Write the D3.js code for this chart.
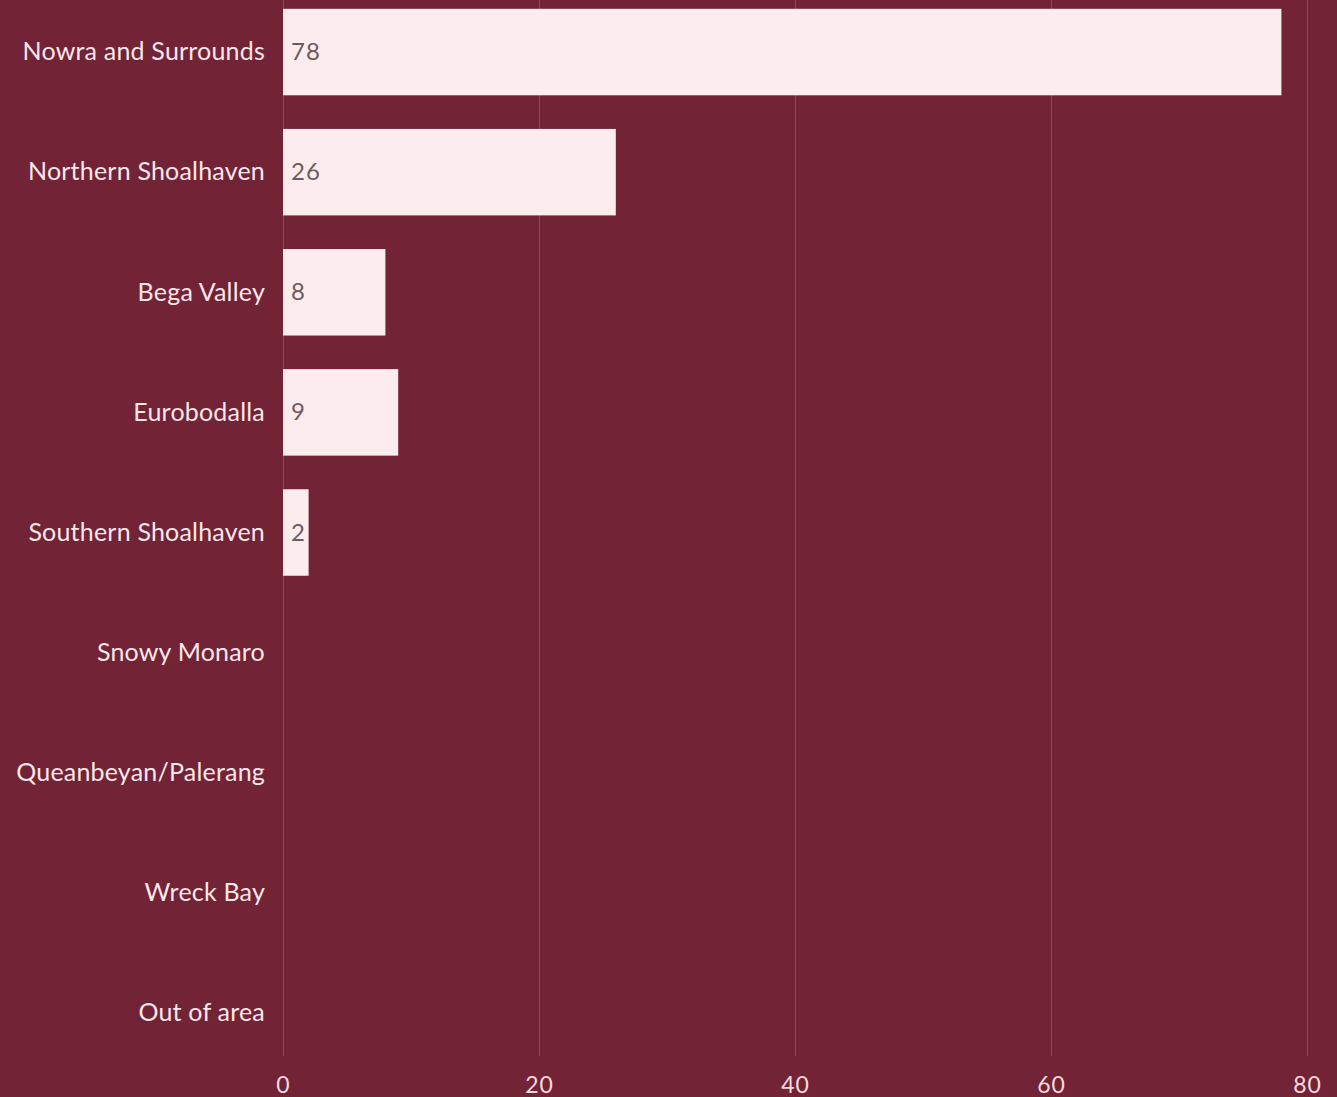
<!DOCTYPE html>
<html>
<head>
<meta charset="utf-8">
<script src="https://cdn.jsdelivr.net/npm/d3@7"></script>
<style>
  html, body { margin: 0; padding: 0; background: #722335; }
  svg { display: block; }
</style>
</head>
<body>
<div class="canvas"><svg></svg></div>
<script>
// data
var regions = ["Nowra and Surrounds", "Northern Shoalhaven", "Bega Valley", "Eurobodalla",
  "Southern Shoalhaven", "Snowy Monaro", "Queanbeyan/Palerang", "Wreck Bay", "Out of area"];
var counts = [78, 26, 8, 9, 2, 0, 0, 0, 0];
var xTicks = [0, 20, 40, 60, 80];

var width = 1337, height = 1097;

var svg = d3.select(".canvas").select("svg")
  .attr("width", width)
  .attr("height", height)
  .style("font-family", "Lato, 'Open Sans', sans-serif");

var x = d3.scaleLinear().domain([0, 80]).range([283, 1307]);

// paddingOuter = paddingInner / 2 keeps band centres at step*(i+0.5)
var y = d3.scaleBand()
  .domain(regions)
  .range([-8, 1073])
  .paddingInner(0.28)
  .paddingOuter(0.14);

// grid
svg.append("g")
  .selectAll("line")
  .data(xTicks)
  .join("line")
  .attr("x1", function(d) { return x(d) + 0.5; })
  .attr("x2", function(d) { return x(d) + 0.5; })
  .attr("y1", 0)
  .attr("y2", 1056)
  .attr("stroke", "#8e4657")
  .attr("stroke-width", 1);

// bars
var rows = regions.map(function(r, i) { return { name: r, value: counts[i] }; });

svg.append("g")
  .selectAll("rect")
  .data(rows.filter(function(d) { return d.value > 0; }))
  .join("rect")
  .attr("x", x(0))
  .attr("y", function(d) { return y(d.name); })
  .attr("width", function(d) { return x(d.value) - x(0); })
  .attr("height", y.bandwidth())
  .attr("fill", "#fdecee");

// value labels
svg.append("g")
  .selectAll("text")
  .data(rows.filter(function(d) { return d.value > 0; }))
  .join("text")
  .attr("x", x(0) + 8)
  .attr("y", function(d) { return y(d.name) + y.bandwidth() / 2 + 2; })
  .attr("dominant-baseline", "middle")
  .attr("fill", "#6e5a60")
  .style("font-size", "24px")
  .style("letter-spacing", "1px")
  .text(function(d) { return d.value; });

// category labels
svg.append("g")
  .selectAll("text")
  .data(regions)
  .join("text")
  .attr("x", 265)
  .attr("y", function(d) { return y(d) + y.bandwidth() / 2 + 2; })
  .attr("text-anchor", "end")
  .attr("dominant-baseline", "middle")
  .attr("fill", "#fbe6ea")
  .style("font-size", "25px")
  .style("letter-spacing", "0.2px")
  .text(function(d) { return d; });

// x axis labels
var xAxis = svg.append("g")
  .attr("transform", "translate(0,1056)")
  .call(d3.axisBottom(x).tickValues(xTicks).tickSize(0).tickPadding(21));
xAxis.select(".domain").remove();
xAxis.selectAll("text")
  .attr("fill", "#f7d9df")
  .style("font-size", "23px")
  .style("letter-spacing", "1px")
  .style("font-family", "Lato, 'Open Sans', sans-serif");
</script>
</body>
</html>
